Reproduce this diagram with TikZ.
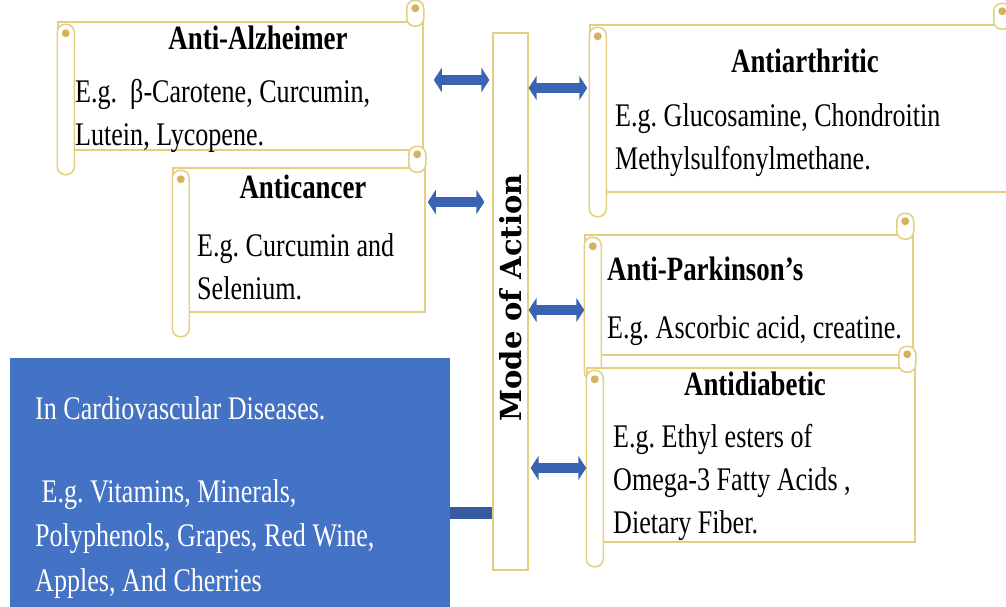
\documentclass[tikz,border=0pt]{standalone}
\usepackage{fontspec}
\setmainfont{Liberation Serif}[FakeStretch=0.79]
\newfontfamily\modefont{DejaVu Serif}
\usetikzlibrary{arrows.meta}
\frenchspacing
\definecolor{scrollgold}{RGB}{226,208,128}
\definecolor{scrolldot}{RGB}{214,178,96}
\definecolor{officeblue}{RGB}{68,114,196}
\definecolor{arrowblue}{RGB}{58,100,178}
\definecolor{linkblue}{RGB}{56,90,160}
\tikzset{
  scrollbody/.style={draw=scrollgold, line width=1.5pt, fill=white, inner sep=0pt},
  scrollroll/.style={draw=scrollgold, line width=1.5pt, fill=white, rounded corners=8pt},
  head/.style={font=\fontsize{34}{36}\selectfont\bfseries, inner sep=0pt},
  body/.style={font=\fontsize{33}{43}\selectfont, align=left, inner sep=0pt, anchor=north west},
  dblarrow/.style={arrowblue, line width=10pt, {Triangle[length=8pt,width=24pt]}-{Triangle[length=8pt,width=24pt]}},
}
% the rolled edges of a scroll
\newcommand{\scrolldeco}[1]{%
  \draw[scrollroll] ([yshift=-3pt]#1.north west) rectangle ([xshift=17pt,yshift=-24pt]#1.south west);
  \draw[scrollroll] ([xshift=-17pt,yshift=21pt]#1.north east) rectangle ([yshift=-5pt]#1.north east);
  \fill[scrolldot] ([xshift=8.5pt,yshift=-12pt]#1.north west) circle (4pt);
  \fill[scrolldot] ([xshift=-8.5pt,yshift=13pt]#1.north east) circle (4pt);
}
\begin{document}
\begin{tikzpicture}[x=1pt,y=-1pt]
  \useasboundingbox (0,0) rectangle (1006,606);
  % left scrolls
  \node[scrollbody, minimum width=365pt, minimum height=128pt] (alz) at (240.5,86) {};
  \scrolldeco{alz}
  \node[head, anchor=base] (alzhead) at (258,49) {Anti-Alzheimer};
  \node[body] (alztext) at (75,79) {E.g.\ \ β-Carotene, Curcumin,\\Lutein, Lycopene.};
  \node[scrollbody, minimum width=252pt, minimum height=144pt] (can) at (299,240) {};
  \scrolldeco{can}
  \node[head, anchor=base] (canhead) at (303,198) {Anticancer};
  \node[body] (cantext) at (197,233) {E.g. Curcumin and\\Selenium.};
  % right scrolls
  \node[scrollbody, minimum width=420pt, minimum height=167pt] (arth) at (800,108.5) {};
  \scrolldeco{arth}
  \node[head, anchor=base] (arthhead) at (805,72) {Antiarthritic};
  \node[body] (arthtext) at (615,103) {E.g. Glucosamine, Chondroitin\\Methylsulfonylmethane.};
  \node[scrollbody, minimum width=328pt, minimum height=120pt] (park) at (749,295) {};
  \scrolldeco{park}
  \node[head, anchor=base west] (parkhead) at (607,280) {Anti-Parkinson’s};
  \node[body] (parktext) at (607,315) {E.g. Ascorbic acid, creatine.};
  \node[scrollbody, minimum width=328pt, minimum height=174pt] (diab) at (751,455) {};
  \scrolldeco{diab}
  \node[head, anchor=base] (diabhead) at (755,395) {Antidiabetic};
  \node[body] (diabtext) at (613,424) {E.g. Ethyl esters of\\Omega-3 Fatty Acids ,\\Dietary Fiber.};
  % centre bar
  \node[draw=scrollgold, line width=1.2pt, fill=white, minimum width=35pt, minimum height=537pt] (bar) at (510.5,301.5) {};
  \node[rotate=90, font=\modefont\fontsize{29}{32}\selectfont\bfseries] (mode) at (511,298) {Mode of Action};
  % blue box
  \node[fill=officeblue, minimum width=440pt, minimum height=250pt, inner sep=0pt] (cvd) at (230,483) {};
  \node[white, anchor=base west, inner sep=0pt, font=\fontsize{33}{36}\selectfont] (cvdhead) at (35,419) {In Cardiovascular Diseases.};
  \node[body, white, font=\fontsize{33}{44.5}\selectfont] (cvdtext) at (35,479) {\ E.g. Vitamins, Minerals,\\Polyphenols, Grapes, Red Wine,\\Apples, And Cherries};
  % connectors
  \coordinate (alzlink) at ([xshift=10pt,yshift=6pt]alz.east);
  \coordinate (canlink) at ([xshift=2pt,yshift=38pt]can.east);
  \coordinate (arthlink) at ([xshift=-2pt,yshift=20.5pt]arth.west);
  \coordinate (parklink) at ([yshift=-15pt]park.west);
  \coordinate (diablink) at ([yshift=-13pt]diab.west);
  \coordinate (cvdlink) at ([yshift=-30pt]cvd.east);
  \draw[dblarrow, shorten >=3pt] (alzlink) -- (bar.west |- alzlink);
  \draw[dblarrow, shorten >=8pt] (canlink) -- (bar.west |- canlink);
  \draw[dblarrow] (bar.east |- arthlink) -- (arthlink);
  \draw[dblarrow] (bar.east |- parklink) -- (parklink);
  \draw[dblarrow, shorten <=2pt] (bar.east |- diablink) -- (diablink);
  \draw[linkblue, line width=12pt] (cvdlink) -- (bar.west |- cvdlink);
\end{tikzpicture}
\end{document}
